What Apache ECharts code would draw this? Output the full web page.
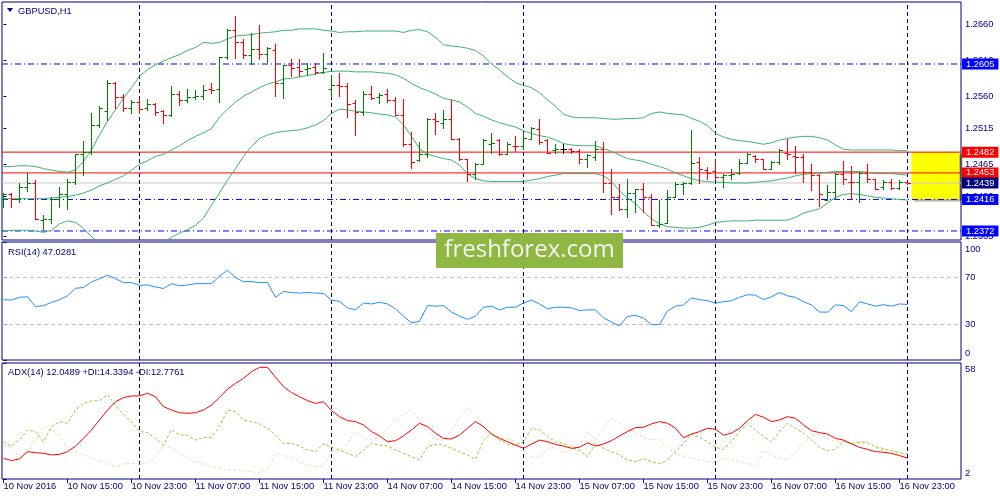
<!DOCTYPE html>
<html><head><meta charset="utf-8">
<script src="https://cdn.jsdelivr.net/npm/echarts@6/dist/echarts.min.js"></script>
<style>html,body{margin:0;padding:0;background:#fff}#c{width:1000px;height:500px}</style>
</head><body><div id="c"></div>
<script>
// ---- data (bar index 0 = 10 Nov 2016 07:00, H1 bars) ----
const timeTickIdx = [0,8,16,24,32,40,48,56,64,72,80,88,96,104,112];
const timeTickLabels = ['10 Nov 2016','10 Nov 15:00','10 Nov 23:00','11 Nov 07:00','11 Nov 15:00','11 Nov 23:00','14 Nov 07:00','14 Nov 15:00','14 Nov 23:00','15 Nov 07:00','15 Nov 15:00','15 Nov 23:00','16 Nov 07:00','16 Nov 15:00','16 Nov 23:00'];
const daySeparators = [17,41,65,89,113];

const open = [
1.2416,1.2424,1.2416,1.2433,1.2439,1.2387,1.2389,1.2416,1.2424,1.2440,
1.2479,1.2482,1.2520,1.2539,1.2579,1.2559,1.2544,1.2552,1.2543,1.2549,
1.2539,1.2534,1.2563,1.2555,1.2559,1.2561,1.2570,1.2570,1.2615,1.2653,
1.2635,1.2618,1.2626,1.2619,1.2625,1.2578,1.2603,1.2601,1.2598,1.2601,
1.2594,1.2570,1.2575,1.2574,1.2551,1.2538,1.2563,1.2559,1.2563,1.2555,
1.2534,1.2494,1.2471,1.2480,1.2528,1.2523,1.2528,1.2500,1.2472,1.2451,
1.2466,1.2494,1.2499,1.2480,1.2491,1.2491,1.2501,1.2514,1.2499,1.2485,
1.2486,1.2486,1.2484,1.2472,1.2475,1.2487,1.2439,1.2420,1.2402,1.2425,
1.2430,1.2420,1.2381,1.2383,1.2420,1.2438,1.2439,1.2468,1.2457,1.2456,
1.2447,1.2450,1.2453,1.2467,1.2476,1.2472,1.2459,1.2468,1.2481,1.2477,
1.2475,1.2454,1.2450,1.2415,1.2426,1.2452,1.2441,1.2440,1.2453,1.2444,
1.2434,1.2440,1.2432,1.2440];
const close = [
1.2423,1.2416,1.2433,1.2439,1.2389,1.2389,1.2417,1.2424,1.2440,1.2479,
1.2482,1.2520,1.2543,1.2579,1.2559,1.2543,1.2552,1.2542,1.2549,1.2538,
1.2534,1.2563,1.2555,1.2559,1.2561,1.2569,1.2569,1.2615,1.2653,1.2635,
1.2618,1.2626,1.2619,1.2628,1.2578,1.2603,1.2599,1.2595,1.2599,1.2594,
1.2599,1.2575,1.2574,1.2549,1.2538,1.2563,1.2558,1.2562,1.2555,1.2534,
1.2494,1.2468,1.2480,1.2528,1.2526,1.2528,1.2500,1.2472,1.2451,1.2466,
1.2499,1.2495,1.2479,1.2493,1.2490,1.2502,1.2515,1.2496,1.2481,1.2486,
1.2486,1.2484,1.2473,1.2478,1.2487,1.2439,1.2419,1.2402,1.2425,1.2430,
1.2419,1.2381,1.2382,1.2419,1.2438,1.2439,1.2467,1.2458,1.2453,1.2447,
1.2450,1.2452,1.2467,1.2479,1.2472,1.2459,1.2468,1.2485,1.2479,1.2475,
1.2454,1.2450,1.2423,1.2426,1.2452,1.2445,1.2440,1.2453,1.2444,1.2431,
1.2440,1.2432,1.2441,1.2439];
const low = [
1.2405,1.2405,1.2412,1.2428,1.2389,1.2375,1.2383,1.2405,1.2402,1.2437,
1.2450,1.2479,1.2517,1.2527,1.2544,1.2539,1.2537,1.2536,1.2541,1.2534,
1.2523,1.2533,1.2548,1.2552,1.2556,1.2556,1.2564,1.2552,1.2612,1.2614,
1.2613,1.2605,1.2612,1.2608,1.2561,1.2558,1.2588,1.2588,1.2590,1.2591,
1.2592,1.2559,1.2561,1.2531,1.2506,1.2534,1.2556,1.2551,1.2552,1.2534,
1.2490,1.2460,1.2470,1.2475,1.2508,1.2516,1.2500,1.2471,1.2442,1.2445,
1.2466,1.2481,1.2478,1.2479,1.2484,1.2487,1.2500,1.2494,1.2481,1.2481,
1.2481,1.2481,1.2467,1.2461,1.2471,1.2426,1.2395,1.2401,1.2391,1.2399,
1.2399,1.2381,1.2378,1.2383,1.2420,1.2424,1.2437,1.2439,1.2444,1.2445,
1.2434,1.2445,1.2452,1.2467,1.2468,1.2458,1.2458,1.2466,1.2472,1.2453,
1.2440,1.2429,1.2407,1.2415,1.2416,1.2438,1.2416,1.2412,1.2440,1.2430,
1.2430,1.2430,1.2431,1.2437];
const high = [
1.2425,1.2425,1.2439,1.2453,1.2443,1.2394,1.2419,1.2434,1.2444,1.2480,
1.2497,1.2537,1.2546,1.2583,1.2580,1.2563,1.2555,1.2556,1.2556,1.2550,
1.2541,1.2574,1.2568,1.2570,1.2569,1.2575,1.2578,1.2615,1.2654,1.2672,
1.2640,1.2648,1.2659,1.2629,1.2633,1.2604,1.2612,1.2612,1.2606,1.2607,
1.2621,1.2590,1.2593,1.2579,1.2555,1.2568,1.2574,1.2564,1.2570,1.2559,
1.2556,1.2510,1.2496,1.2529,1.2536,1.2541,1.2555,1.2502,1.2473,1.2467,
1.2500,1.2509,1.2500,1.2496,1.2504,1.2509,1.2517,1.2528,1.2500,1.2493,
1.2494,1.2488,1.2487,1.2480,1.2497,1.2496,1.2458,1.2437,1.2444,1.2431,
1.2439,1.2423,1.2415,1.2429,1.2440,1.2440,1.2513,1.2475,1.2461,1.2471,
1.2452,1.2458,1.2472,1.2481,1.2478,1.2473,1.2470,1.2486,1.2500,1.2491,
1.2479,1.2465,1.2451,1.2436,1.2453,1.2470,1.2463,1.2454,1.2465,1.2445,
1.2443,1.2444,1.2443,1.2442];

const bbUpper = [
1.2462,1.2462,1.2463,1.2463,1.2462,1.2459,1.2457,1.2455,1.2454,1.2457,
1.2469,1.2485,1.2506,1.2525,1.2541,1.2557,1.2572,1.2588,1.2597,1.2604,
1.2609,1.2614,1.2618,1.2624,1.2628,1.2635,1.2634,1.2635,1.2640,1.2644,
1.2645,1.2646,1.2648,1.2649,1.2650,1.2652,1.2652,1.2654,1.2654,1.2654,
1.2652,1.2651,1.2649,1.2650,1.2650,1.2651,1.2651,1.2651,1.2651,1.2651,
1.2649,1.2652,1.2653,1.2650,1.2642,1.2632,1.2630,1.2629,1.2627,1.2624,
1.2616,1.2605,1.2597,1.2587,1.2579,1.2575,1.2572,1.2565,1.2555,1.2546,
1.2535,1.2531,1.2530,1.2530,1.2530,1.2529,1.2528,1.2528,1.2529,1.2529,
1.2530,1.2536,1.2538,1.2536,1.2535,1.2534,1.2529,1.2525,1.2519,1.2508,
1.2503,1.2500,1.2498,1.2497,1.2495,1.2493,1.2495,1.2499,1.2501,1.2503,
1.2504,1.2504,1.2502,1.2499,1.2492,1.2486,1.2485,1.2485,1.2485,1.2485,
1.2485,1.2485,1.2484,1.2484];
const bbMiddle = [
1.2417,1.2417,1.2417,1.2417,1.2417,1.2417,1.2418,1.2419,1.2420,1.2422,
1.2425,1.2429,1.2435,1.2439,1.2444,1.2449,1.2457,1.2465,1.2470,1.2476,
1.2479,1.2485,1.2491,1.2498,1.2504,1.2509,1.2515,1.2531,1.2542,1.2552,
1.2560,1.2566,1.2572,1.2577,1.2580,1.2584,1.2585,1.2587,1.2589,1.2591,
1.2593,1.2595,1.2595,1.2595,1.2594,1.2594,1.2594,1.2593,1.2592,1.2590,
1.2585,1.2578,1.2572,1.2568,1.2563,1.2557,1.2555,1.2552,1.2545,1.2536,
1.2532,1.2527,1.2523,1.2520,1.2517,1.2512,1.2508,1.2505,1.2503,1.2499,
1.2494,1.2492,1.2491,1.2491,1.2491,1.2487,1.2483,1.2478,1.2473,1.2471,
1.2469,1.2465,1.2462,1.2458,1.2453,1.2449,1.2445,1.2442,1.2441,1.2440,
1.2440,1.2439,1.2439,1.2439,1.2440,1.2441,1.2442,1.2444,1.2446,1.2449,
1.2451,1.2452,1.2453,1.2454,1.2455,1.2455,1.2455,1.2455,1.2454,1.2452,
1.2452,1.2452,1.2451,1.2450];
const bbLower = [
1.2372,1.2373,1.2373,1.2373,1.2372,1.2370,1.2373,1.2382,1.2386,1.2384,
1.2376,1.2364,1.2355,1.2348,1.2343,1.2341,1.2339,1.2339,1.2340,1.2348,
1.2356,1.2363,1.2369,1.2374,1.2380,1.2390,1.2408,1.2425,1.2443,1.2459,
1.2476,1.2490,1.2501,1.2506,1.2509,1.2511,1.2512,1.2513,1.2516,1.2520,
1.2526,1.2536,1.2542,1.2541,1.2539,1.2538,1.2537,1.2535,1.2534,1.2531,
1.2520,1.2504,1.2487,1.2479,1.2476,1.2473,1.2471,1.2464,1.2452,1.2445,
1.2442,1.2441,1.2441,1.2441,1.2441,1.2441,1.2443,1.2445,1.2448,1.2450,
1.2452,1.2452,1.2452,1.2452,1.2452,1.2449,1.2441,1.2428,1.2418,1.2410,
1.2399,1.2389,1.2382,1.2378,1.2377,1.2376,1.2376,1.2377,1.2380,1.2384,
1.2385,1.2386,1.2386,1.2386,1.2387,1.2387,1.2387,1.2387,1.2387,1.2391,
1.2397,1.2400,1.2403,1.2411,1.2419,1.2423,1.2424,1.2423,1.2421,1.2419,
1.2418,1.2417,1.2416,1.2415];

const rsi = [
51.1,50.8,53.1,53.6,45.3,46.1,48.9,51.1,54.4,60.8,
61.4,66.1,68.9,71.9,68.9,65.6,65.6,63.3,63.6,61.9,
60.6,64.7,62.8,63.6,64.7,64.7,64.7,71.1,76.1,69.7,
66.4,66.4,65.6,65.6,53.1,58.1,57.2,56.7,57.2,56.7,
56.4,50.8,49.7,44.2,42.5,48.3,47.5,48.9,47.5,43.3,
37.2,31.4,32.8,46.1,45.6,46.1,40.6,37.2,34.4,37.2,
44.7,45.6,42.5,44.7,44.7,48.3,50.8,47.5,43.3,44.7,
44.7,44.2,41.9,42.5,42.5,35.6,32.2,28.9,36.9,37.8,
35.6,30.0,30.0,41.5,45.6,46.7,52.5,51.1,50.3,48.3,
49.4,50.3,53.1,55.3,55.0,51.1,53.6,57.2,54.4,53.1,
49.4,46.7,40.6,40.6,46.7,46.1,41.1,49.4,47.5,45.6,
46.9,45.6,47.5,47.03];

const adx = [
12.0,10.9,11.7,15.2,14.7,14.4,13.6,13.9,15.2,17.9,
21.6,25.7,30.5,35.3,39.3,41.3,42.1,42.1,43.4,41.7,
36.9,35.3,34.0,33.7,34.0,35.3,37.7,41.4,45.4,48.2,
50.6,53.8,55.9,55.9,51.1,46.6,43.7,41.7,39.8,38.5,
39.3,35.0,32.1,30.2,29.7,28.1,24.9,22.8,20.0,20.5,
22.8,25.7,28.9,27.3,24.1,21.6,21.3,23.2,26.5,29.7,
27.3,23.7,21.6,20.0,18.4,16.8,18.9,20.8,20.0,18.7,
17.9,16.8,17.3,19.5,17.9,18.9,20.5,22.8,24.9,26.8,
27.0,28.6,29.7,28.9,26.5,21.9,23.7,24.9,26.5,26.0,
23.2,24.1,26.5,30.2,33.2,31.8,29.7,30.5,32.1,31.3,
28.1,25.3,24.4,23.7,21.6,20.8,18.9,17.3,16.3,15.2,
14.9,14.4,13.3,12.05];
const plusDI = [
20.0,17.9,20.8,25.7,24.9,20.0,27.3,29.7,28.9,35.3,
38.5,39.8,39.8,42.6,37.7,32.9,29.7,24.9,24.4,21.6,
18.4,25.7,23.2,23.2,20.8,22.1,22.1,27.3,35.3,34.5,
30.5,29.7,28.6,26.5,23.2,19.2,19.2,17.9,16.0,15.2,
18.9,17.3,16.0,14.4,12.8,16.0,19.2,18.4,17.9,16.0,
14.4,12.8,11.2,17.6,18.7,18.4,16.8,15.2,13.6,11.5,
20.8,24.1,20.8,18.9,18.4,20.0,26.5,25.7,22.5,20.0,
19.2,17.3,15.7,12.8,19.2,16.8,15.2,13.6,11.2,10.4,
11.7,10.4,9.3,11.2,15.2,19.2,23.7,22.1,20.0,17.3,
16.3,20.0,24.9,28.9,25.7,22.5,20.0,24.9,28.9,26.5,
24.1,20.8,17.3,15.7,16.3,20.5,19.2,19.5,19.5,17.3,
16.3,15.7,14.7,14.34];
const minusDI = [
18.4,16.8,12.8,16.0,20.8,27.3,25.7,22.5,17.3,15.2,
13.6,12.0,10.9,9.6,8.0,9.3,9.6,9.1,9.6,12.8,
18.4,16.8,14.4,12.0,10.4,9.6,8.0,7.2,6.4,6.4,
6.0,5.5,5.1,6.4,14.4,13.6,12.0,10.4,8.8,8.0,
8.3,15.0,15.7,19.2,24.9,22.1,20.8,22.1,26.5,30.2,
32.9,35.0,30.8,24.9,21.2,20.8,25.7,31.3,36.1,33.7,
26.5,23.2,22.1,21.2,20.0,15.7,12.8,12.3,16.8,17.3,
14.7,16.3,17.9,24.9,20.8,26.5,31.3,29.2,26.0,24.4,
22.1,20.8,21.2,17.0,14.4,13.1,12.0,11.2,10.4,9.9,
12.0,11.5,10.4,9.3,8.0,15.7,13.6,12.0,11.2,15.2,
19.2,22.8,23.7,21.6,20.0,20.0,19.2,20.0,20.0,18.4,
16.8,15.7,14.7,12.78];

const priceTicks = [1.2660,1.2610,1.2560,1.2515,1.2465,1.2420,1.2365];
const rsiTicks = [0,30,70,100];
const rsiLevels = [30,70];
const adxTicks = [2,58];
const levelPrices = [1.2605,1.2482,1.2453,1.2439,1.2416,1.2372];
const zoneTop = 1.2482, zoneBottom = 1.2416;
const symbolTitle = 'GBPUSD,H1';
const rsiTitle = 'RSI(14) 47.0281';
const adxTitle = 'ADX(14) 12.0489 +DI:14.3394 -DI:12.7761';
const watermark = 'freshforex.com';

// ---- styling ----
const F = 'Liberation Sans, Arial, sans-serif';
const FS = 9.3;
const NAVY = '#000080';
const XMIN = -0.1875, XMAX = 119.6875;
const levelLine = [
  {color:'#0000ff', type:[6,3,1,3]},
  {color:'#ff0000', type:'solid'},
  {color:'#ff0000', type:'solid'},
  {color:'#c8c8c8', type:'solid'},
  {color:'#0000ff', type:[6,3,1,3]},
  {color:'#0000ff', type:[6,3,1,3]}
];
const levelBox = ['#0000ff','#ff0000','#ff0000','#000080','#0000ff','#0000ff'];

const chart = echarts.init(document.getElementById('c'), null, {renderer:'canvas'});

const xBase = {type:'value', min:XMIN, max:XMAX, show:false};
const gridStyle = {show:true, borderColor:NAVY, borderWidth:1, backgroundColor:'#fff', containLabel:false};
const idx = (arr) => arr.map((v,i) => [i, v]);
const ohlc = open.map((o,i) => [i, o, close[i], low[i], high[i]]);

function separators(xi, yi, ymin, ymax) {
  return daySeparators.map(v => ({
    type:'line', xAxisIndex:xi, yAxisIndex:yi, data:[[v, ymin],[v, ymax]],
    showSymbol:false, silent:true, z:1,
    lineStyle:{color:NAVY, width:1, type:[4,3]}
  }));
}
function hline(xi, yi, v, style, z) {
  return {type:'line', xAxisIndex:xi, yAxisIndex:yi, data:[[XMIN, v],[XMAX, v]],
    showSymbol:false, silent:true, z:z || 1, lineStyle:style};
}

const levelSeries = levelPrices.map((p,k) => Object.assign(
  hline(0, 0, p, {color:levelLine[k].color, type:levelLine[k].type, width:1}, 1),
  {endLabel:{show:true, formatter:p.toFixed(4), distance:1, backgroundColor:levelBox[k],
    color:'#ffffff', padding:[1,4,0,4], fontFamily:F, fontSize:FS, lineHeight:10}}
));

const option = {
  animation:false,
  backgroundColor:'#ffffff',
  grid:[
    Object.assign({left:2, right:39, top:2, height:238}, gridStyle),
    Object.assign({left:2, right:39, top:242, height:118}, gridStyle),
    Object.assign({left:2, right:39, top:363, height:116}, gridStyle)
  ],
  xAxis:[
    Object.assign({gridIndex:0}, xBase),
    Object.assign({gridIndex:1}, xBase),
    {gridIndex:2, type:'value', min:XMIN, max:XMAX, show:true, position:'bottom',
      axisLine:{show:false}, splitLine:{show:false},
      axisTick:{show:true, customValues:timeTickIdx, length:4, lineStyle:{color:NAVY}},
      axisLabel:{show:true, customValues:timeTickIdx, align:'left', margin:3,
        color:NAVY, fontFamily:F, fontSize:FS,
        formatter: v => timeTickLabels[timeTickIdx.indexOf(Math.round(v))] || ''}}
  ],
  yAxis:[
    {gridIndex:0, type:'value', position:'right', min:1.23594, max:1.26915,
      axisLine:{show:false}, splitLine:{show:false},
      axisTick:{show:true, customValues:priceTicks, length:3, lineStyle:{color:NAVY}},
      axisLabel:{show:true, customValues:priceTicks, margin:4, color:NAVY, fontFamily:F, fontSize:FS,
        formatter: v => v.toFixed(4)}},
    {gridIndex:1, type:'value', position:'right', min:0, max:100,
      axisLine:{show:false}, splitLine:{show:false},
      axisTick:{show:true, customValues:rsiTicks, length:3, lineStyle:{color:NAVY}},
      axisLabel:{show:true, customValues:rsiTicks, margin:4, color:NAVY, fontFamily:F, fontSize:FS,
        formatter: v => v === 100 ? '{d|100}' : (v === 0 ? '{u|0}' : String(v)),
        rich:{d:{padding:[14,0,0,0], color:NAVY, fontFamily:F, fontSize:FS},
              u:{padding:[0,0,13,0], color:NAVY, fontFamily:F, fontSize:FS}}}},
    {gridIndex:2, type:'value', position:'right', min:2, max:58,
      axisLine:{show:false}, splitLine:{show:false},
      axisTick:{show:true, customValues:adxTicks, length:3, lineStyle:{color:NAVY}},
      axisLabel:{show:true, customValues:adxTicks, margin:4, color:NAVY, fontFamily:F, fontSize:FS,
        formatter: v => v === 58 ? '{d|58}' : '{u|2}',
        rich:{d:{padding:[12,0,0,0], color:NAVY, fontFamily:F, fontSize:FS},
              u:{padding:[0,0,12,0], color:NAVY, fontFamily:F, fontSize:FS}}}}
  ],
  series:[].concat(
    levelSeries,
    separators(0, 0, 1.23594, 1.26915),
    [
      {type:'line', xAxisIndex:0, yAxisIndex:0, data:idx(bbUpper), showSymbol:false, z:2,
        lineStyle:{color:'#3cb371', width:1}},
      {type:'line', xAxisIndex:0, yAxisIndex:0, data:idx(bbMiddle), showSymbol:false, z:2,
        lineStyle:{color:'#3cb371', width:1}},
      {type:'line', xAxisIndex:0, yAxisIndex:0, data:idx(bbLower), showSymbol:false, z:2,
        lineStyle:{color:'#3cb371', width:1}},
      {type:'custom', xAxisIndex:0, yAxisIndex:0, data:ohlc, z:3, clip:true,
        encode:{x:0, y:[1,2,3,4]},
        renderItem:(params, api) => {
          const i = api.value(0), o = api.value(1), c = api.value(2), l = api.value(3), h = api.value(4);
          const pO = api.coord([i,o]), pC = api.coord([i,c]), pL = api.coord([i,l]), pH = api.coord([i,h]);
          const col = c > o ? '#008000' : (c < o ? '#ff0000' : '#000000');
          const x = Math.floor(pO[0]) + 0.5;
          const yo = Math.round(pO[1]) + 0.5, yc = Math.round(pC[1]) + 0.5;
          return {type:'group', children:[
            {type:'line', shape:{x1:x, y1:Math.round(pH[1]), x2:x, y2:Math.round(pL[1])+1}, style:{stroke:col, lineWidth:1}},
            {type:'line', shape:{x1:x-3, y1:yo, x2:x, y2:yo}, style:{stroke:col, lineWidth:1}},
            {type:'line', shape:{x1:x, y1:yc, x2:x+3.5, y2:yc}, style:{stroke:col, lineWidth:1}}
          ]};
        }},
      {type:'line', xAxisIndex:0, yAxisIndex:0, data:[[113.5, zoneTop]], showSymbol:false, z:6,
        lineStyle:{opacity:0},
        markArea:{silent:true, animation:false,
          itemStyle:{color:'#ffff00', shadowColor:'rgba(0,0,0,0.45)', shadowBlur:2, shadowOffsetX:2, shadowOffsetY:2},
          data:[[{coord:[113.5, zoneTop]}, {coord:[119.5, zoneBottom]}]]}}
    ],
    rsiLevels.map(v => hline(1, 1, v, {color:'#c0c0c0', type:[4,3], width:1}, 1)),
    separators(1, 1, 0, 100),
    [{type:'line', xAxisIndex:1, yAxisIndex:1, data:idx(rsi), showSymbol:false, z:3,
      lineStyle:{color:'#1e90ff', width:1}}],
    separators(2, 2, 2, 58),
    [
      {type:'line', xAxisIndex:2, yAxisIndex:2, data:idx(minusDI), showSymbol:false, z:2,
        lineStyle:{color:'#f5d9ae', width:1, type:[3,2]}},
      {type:'line', xAxisIndex:2, yAxisIndex:2, data:idx(plusDI), showSymbol:false, z:2,
        lineStyle:{color:'#9acd32', width:1, type:[3,2]}},
      {type:'line', xAxisIndex:2, yAxisIndex:2, data:idx(adx), showSymbol:false, z:3,
        lineStyle:{color:'#ff0000', width:1}}
    ]
  ),
  graphic:[
    {type:'polygon', z:50, shape:{points:[[7,8],[13,8],[10,12]]}, style:{fill:NAVY}},
    {type:'text', z:50, x:18, y:11, style:{text:symbolTitle, fill:NAVY, fontFamily:F, fontSize:FS, verticalAlign:'middle'}},
    {type:'text', z:50, x:8, y:252, style:{text:rsiTitle, fill:NAVY, fontFamily:F, fontSize:FS, verticalAlign:'middle'}},
    {type:'text', z:50, x:8, y:372, style:{text:adxTitle, fill:NAVY, fontFamily:F, fontSize:FS, verticalAlign:'middle'}},
    {type:'rect', z:60, shape:{x:436, y:233, width:187, height:35}, style:{fill:'#8fb843'}},
    {type:'text', z:61, x:529.5, y:250.5, style:{text:watermark, fill:'#f4f4f4', fontFamily:'Open Sans', fontSize:24, align:'center', verticalAlign:'middle'}}
  ]
};
chart.setOption(option);
</script>
</body></html>
